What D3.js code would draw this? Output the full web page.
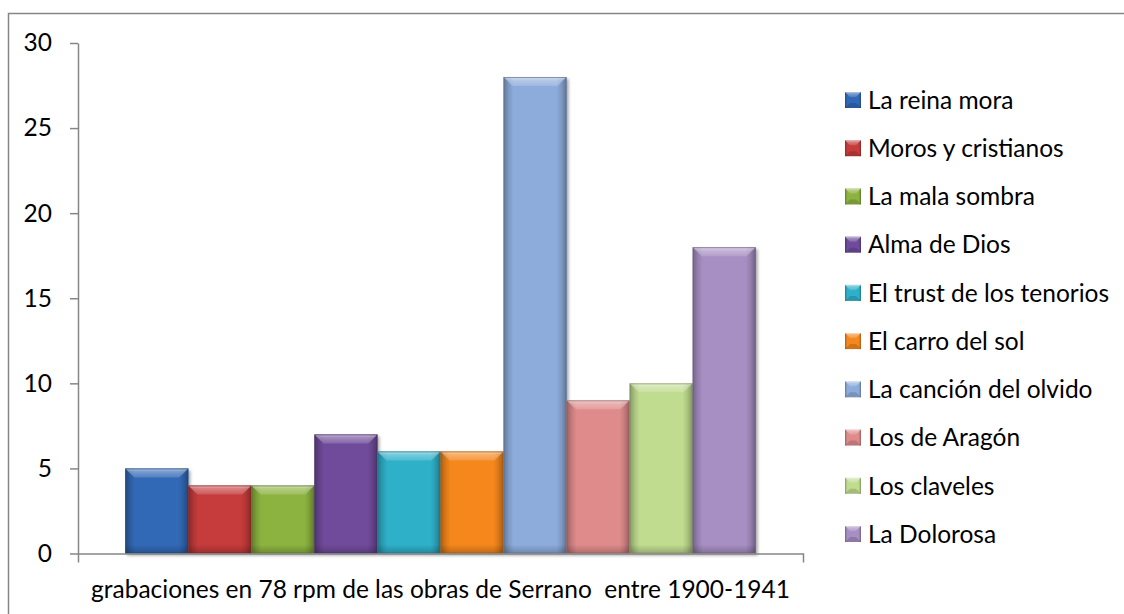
<!DOCTYPE html>
<html>
<head>
<meta charset="utf-8">
<script src="https://cdn.jsdelivr.net/npm/d3@7"></script>
<style>
  html, body { margin: 0; padding: 0; background: #fff; }
  svg { display: block; }
  text { font-family: Lato, "Noto Sans", sans-serif; fill: #000; white-space: pre; }
</style>
</head>
<body>
<svg id="chart" width="1124" height="614"></svg>
<script>
// Recordings per work (78 rpm, 1900-1941)
const categories = ["grabaciones en 78 rpm de las obras de Serrano  entre 1900-1941"];
const series = [
  "La reina mora", "Moros y cristianos", "La mala sombra", "Alma de Dios",
  "El trust de los tenorios", "El carro del sol", "La canción del olvido",
  "Los de Aragón", "Los claveles", "La Dolorosa"
];
const values = [5, 4, 4, 7, 6, 6, 28, 9, 10, 18];
const colors = [
  "#3169b6", "#c63b3a", "#8cb33f", "#6f4b9b", "#2fb0c9",
  "#f5871f", "#8dacdb", "#df8b8b", "#c0dc8f", "#a78fc3"
];
const yTicks = [0, 5, 10, 15, 20, 25, 30];

const svg = d3.select("#chart");
const W = 1124, H = 614;
const plot = { left: 78, right: 803, top: 43, bottom: 553.5 };
const FONT = "24.5px";

const defs = svg.append("defs");

// soft shadow under bars
const sh = defs.append("filter").attr("id", "shadow")
  .attr("x", "-10%").attr("y", "-10%").attr("width", "130%").attr("height", "130%");
sh.append("feDropShadow").attr("dx", 2).attr("dy", 2).attr("stdDeviation", 1.8)
  .attr("flood-color", "#000").attr("flood-opacity", 0.35);

// side shading across bar width
const side = defs.append("linearGradient").attr("id", "sideShade")
  .attr("x1", 0).attr("x2", 1).attr("y1", 0).attr("y2", 0);
[[0, 0.30], [0.09, 0.10], [0.16, 0], [0.84, 0], [0.91, 0.10], [1, 0.32]].forEach(([o, a]) =>
  side.append("stop").attr("offset", o).attr("stop-color", "#000").attr("stop-opacity", a));

// top bevel highlight
const topG = defs.append("linearGradient").attr("id", "topShade")
  .attr("x1", 0).attr("x2", 0).attr("y1", 0).attr("y2", 1);
[[0, 0.65], [0.35, 0.35], [1, 0.15]].forEach(([o, a]) =>
  topG.append("stop").attr("offset", o).attr("stop-color", "#fff").attr("stop-opacity", a));

// bottom darkening
const botG = defs.append("linearGradient").attr("id", "botShade")
  .attr("x1", 0).attr("x2", 0).attr("y1", 0).attr("y2", 1);
[[0, 0], [1, 0.22]].forEach(([o, a]) =>
  botG.append("stop").attr("offset", o).attr("stop-color", "#000").attr("stop-opacity", a));

// outer chart border
svg.append("rect")
  .attr("x", 8.5).attr("y", 13.5).attr("width", W + 20).attr("height", H + 20)
  .attr("fill", "none").attr("stroke", "#868686").attr("stroke-width", 1.5);

// scales
const x0 = d3.scaleBand().domain(categories).range([plot.left, plot.right])
  .paddingInner(0).paddingOuter(0.075);
const x1 = d3.scaleBand().domain(series).range([0, x0.bandwidth()]).padding(0);
const y = d3.scaleLinear().domain([0, 30]).range([plot.bottom, plot.top]);

// y axis
const yAxis = svg.append("g").attr("transform", `translate(${plot.left},0)`)
  .call(d3.axisLeft(y).tickValues(yTicks).tickSize(8).tickPadding(18).tickSizeOuter(0));
yAxis.select(".domain").attr("stroke", "#868686").attr("stroke-width", 1.5);
yAxis.selectAll(".tick line").attr("stroke", "#868686").attr("stroke-width", 1.5);
yAxis.selectAll(".tick text").style("font-family", "Lato, sans-serif").style("font-size", FONT).attr("fill", "#000");

// bars
const bw = x1.bandwidth();
const bars = svg.append("g").selectAll("g.bar")
  .data(series.map((s, i) => ({ s, v: values[i], c: colors[i] })))
  .join("g").attr("class", "bar");

bars.each(function (d) {
  const g = d3.select(this);
  const bx = x0(categories[0]) + x1(d.s);
  const by = y(d.v);
  const bh = y(0) - y(d.v);
  const bev = Math.min(9, bh / 3);
  g.append("rect").attr("x", bx).attr("y", by).attr("width", bw).attr("height", bh)
    .attr("fill", d.c).attr("filter", "url(#shadow)");
  g.append("rect").attr("x", bx).attr("y", by).attr("width", bw).attr("height", bh)
    .attr("fill", "url(#sideShade)");
  g.append("path")
    .attr("d", `M${bx},${by}L${bx + bw},${by}L${bx + bw - bev},${by + bev}L${bx + bev},${by + bev}Z`)
    .attr("fill", "url(#topShade)");
  g.append("rect").attr("x", bx).attr("y", by + bh - bev).attr("width", bw).attr("height", bev)
    .attr("fill", "url(#botShade)");
  g.append("rect").attr("x", bx + 0.5).attr("y", by + 0.5).attr("width", bw - 1).attr("height", bh - 1)
    .attr("fill", "none").attr("stroke", d3.color(d.c).darker(1.2)).attr("stroke-opacity", 0.7).attr("stroke-width", 1);
});

// x axis line with end ticks
const xAxis = svg.append("g").attr("transform", `translate(0,${plot.bottom})`)
  .call(d3.axisBottom(x0).tickSize(0).tickSizeOuter(9).tickPadding(27));
xAxis.select(".domain").attr("stroke", "#868686").attr("stroke-width", 1.5);
xAxis.selectAll(".tick text").style("font-family", "Lato, sans-serif").style("font-size", FONT).attr("fill", "#000");

// legend
const ly = d3.scalePoint().domain(series).range([100, 534]);
const leg = svg.append("g").selectAll("g")
  .data(series.map((s, i) => ({ s, c: colors[i] })))
  .join("g").attr("transform", d => `translate(845,${ly(d.s)})`);
leg.append("rect").attr("x", 0).attr("y", -8).attr("width", 16).attr("height", 16)
  .attr("fill", d => d.c);
leg.append("rect").attr("x", 0).attr("y", -8).attr("width", 16).attr("height", 16)
  .attr("fill", "url(#sideShade)");
leg.append("path").attr("d", "M0,-8L16,-8L11,-3L5,-3Z").attr("fill", "url(#topShade)");
leg.append("path").attr("d", "M0,8L16,8L11,3L5,3Z").attr("fill", "#000").attr("fill-opacity", 0.15);
leg.append("text").attr("x", 23).attr("y", 0).attr("dy", "0.36em")
  .style("font-size", FONT).text(d => d.s);
</script>
</body>
</html>
